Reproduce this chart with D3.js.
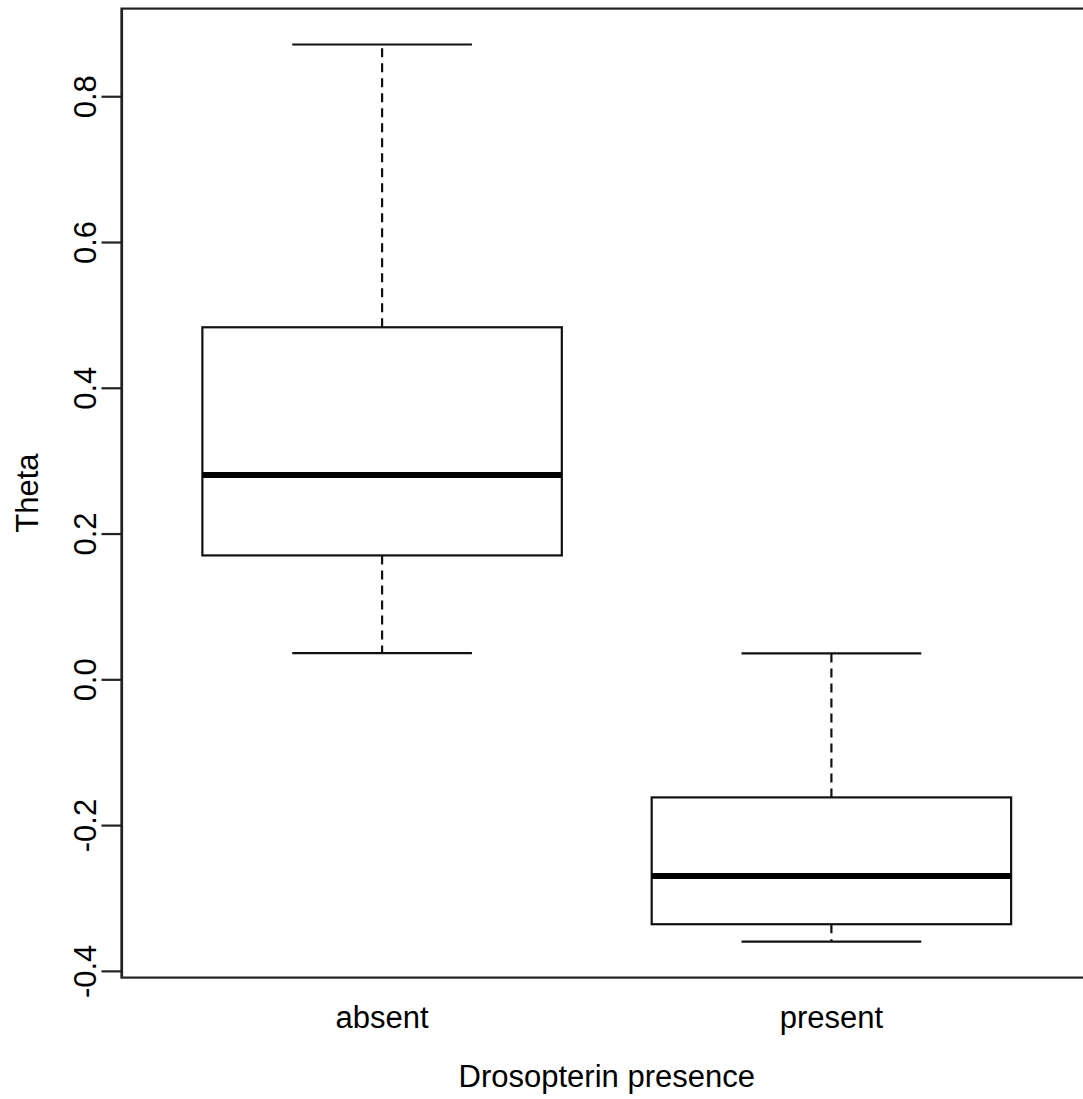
<!DOCTYPE html>
<html>
<head>
<meta charset="utf-8">
<script src="https://cdn.jsdelivr.net/npm/d3@7"></script>
<style>
	body { margin: 0; background: #fff; }
	text { font-family: "Liberation Sans", Arial, sans-serif; fill: #000; }
</style>
</head>
<body>
<div id="chart"></div>
<script>
// box stats
const groups = ["absent", "present"];
const lowWhisker = [0.036, -0.360];
const q1 = [0.170, -0.336];
const median = [0.2805, -0.2697];
const q3 = [0.483, -0.162];
const highWhisker = [0.871, 0.0357];
const yTicks = [-0.4, -0.2, 0.0, 0.2, 0.4, 0.6, 0.8];
const xTitle = "Drosopterin presence";
const yTitle = "Theta";

const width = 1083, height = 1099;
const plot = {left: 121.5, right: 1092, top: 8.6, bottom: 977.6};
const fontSize = "31px";

var svg = d3.select("#chart").append("svg")
	.attr("width", width)
	.attr("height", height);

// R style 4% padding on both axes
var lo = d3.min(lowWhisker), hi = d3.max(highWhisker);
var pad = (hi - lo) * 0.04;
var y = d3.scaleLinear()
	.domain([lo - pad, hi + pad])
	.range([plot.bottom, plot.top]);
var x = d3.scaleLinear()
	.domain([0.5 - 0.08, groups.length + 0.5 + 0.08])
	.range([plot.left, plot.right]);

var boxHalf = 0.4, capHalf = 0.2;

var data = groups.map((g, i) => ({
	name: g, pos: i + 1,
	lo: lowWhisker[i], q1: q1[i], med: median[i], q3: q3[i], hi: highWhisker[i]
}));

var box = svg.selectAll("g.box")
	.data(data)
	.enter().append("g")
	.attr("class", "box");

// whiskers (dashed)
box.append("line")
	.attr("x1", d => x(d.pos)).attr("x2", d => x(d.pos))
	.attr("y1", d => y(d.q3)).attr("y2", d => y(d.hi))
	.attr("stroke", "#111").attr("stroke-width", 2.2)
	.attr("stroke-dasharray", "9,6");
box.append("line")
	.attr("x1", d => x(d.pos)).attr("x2", d => x(d.pos))
	.attr("y1", d => y(d.q1)).attr("y2", d => y(d.lo))
	.attr("stroke", "#111").attr("stroke-width", 2.2)
	.attr("stroke-dasharray", "9,6");

// caps
box.append("line")
	.attr("x1", d => x(d.pos - capHalf)).attr("x2", d => x(d.pos + capHalf))
	.attr("y1", d => y(d.hi)).attr("y2", d => y(d.hi))
	.attr("stroke", "#111").attr("stroke-width", 2.2);
box.append("line")
	.attr("x1", d => x(d.pos - capHalf)).attr("x2", d => x(d.pos + capHalf))
	.attr("y1", d => y(d.lo)).attr("y2", d => y(d.lo))
	.attr("stroke", "#111").attr("stroke-width", 2.2);

// the box
box.append("rect")
	.attr("x", d => x(d.pos - boxHalf))
	.attr("width", d => x(d.pos + boxHalf) - x(d.pos - boxHalf))
	.attr("y", d => y(d.q3))
	.attr("height", d => y(d.q1) - y(d.q3))
	.attr("fill", "none")
	.attr("stroke", "#111").attr("stroke-width", 2.2);

// median
box.append("line")
	.attr("x1", d => x(d.pos - boxHalf)).attr("x2", d => x(d.pos + boxHalf))
	.attr("y1", d => y(d.med)).attr("y2", d => y(d.med))
	.attr("stroke", "#000").attr("stroke-width", 6);

// frame
svg.append("rect")
	.attr("x", plot.left).attr("y", plot.top)
	.attr("width", plot.right - plot.left)
	.attr("height", plot.bottom - plot.top)
	.attr("fill", "none")
	.attr("stroke", "#222").attr("stroke-width", 2.2);

// y axis
var yAxis = svg.append("g")
	.attr("transform", "translate(" + plot.left + ",0)")
	.call(d3.axisLeft(y)
		.tickValues(yTicks)
		.tickSize(20)
		.tickSizeOuter(0)
		.tickFormat(d => d.toFixed(1)));
yAxis.select(".domain").attr("stroke", "#222").attr("stroke-width", 2.2);
yAxis.selectAll(".tick line").attr("stroke", "#222").attr("stroke-width", 2.2);
yAxis.selectAll(".tick text")
	.attr("x", null).attr("dy", null)
	.attr("transform", "translate(-26,0) rotate(-90)")
	.attr("text-anchor", "middle")
	.style("font-size", fontSize)
	.attr("fill", "#000");

// x labels, no ticks
svg.selectAll("text.xlab")
	.data(data)
	.enter().append("text")
	.attr("class", "xlab")
	.attr("x", d => x(d.pos))
	.attr("y", 1028)
	.attr("text-anchor", "middle")
	.style("font-size", fontSize)
	.text(d => d.name);

svg.append("text")
	.attr("x", (plot.left + plot.right) / 2)
	.attr("y", 1087)
	.attr("text-anchor", "middle")
	.style("font-size", fontSize)
	.text(xTitle);

svg.append("text")
	.attr("transform", "translate(38," + (plot.top + plot.bottom) / 2 + ") rotate(-90)")
	.attr("text-anchor", "middle")
	.style("font-size", fontSize)
	.text(yTitle);
</script>
</body>
</html>
